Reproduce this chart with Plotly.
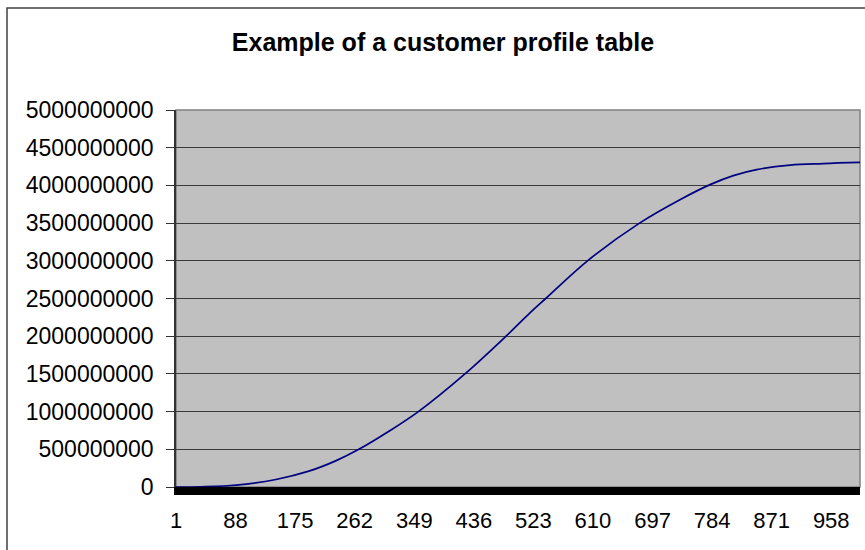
import plotly.graph_objects as go

# Customer rank (category index) and cumulative value at that rank
customer_rank = [1, 37, 89, 147, 195, 235, 268, 312, 355, 423, 483, 518,
                 541, 602, 678, 737, 781, 815, 849, 898, 946, 1000]
cumulative_value = [0, 0.003e9, 0.025e9, 0.10e9, 0.21e9, 0.35e9, 0.50e9,
                    0.74e9, 1.00e9, 1.50e9, 2.00e9, 2.31e9, 2.50e9, 3.00e9,
                    3.50e9, 3.81e9, 4.01e9, 4.13e9, 4.21e9, 4.27e9, 4.29e9,
                    4.305e9]

x_tick_labels = [1, 88, 175, 262, 349, 436, 523, 610, 697, 784, 871, 958]
y_tick_values = [0, 500000000, 1000000000, 1500000000, 2000000000, 2500000000,
                 3000000000, 3500000000, 4000000000, 4500000000, 5000000000]

FONT = "Liberation Sans, Arial, sans-serif"

fig = go.Figure()
fig.add_trace(go.Scatter(
    x=customer_rank,
    y=cumulative_value,
    mode="lines",
    line=dict(color="#000080", width=1.7, shape="spline", smoothing=1.0),
    hoverinfo="x+y",
))

fig.update_layout(
    width=865,
    height=550,
    margin=dict(l=176, r=5, t=110, b=63),
    paper_bgcolor="white",
    plot_bgcolor="#C0C0C0",
    showlegend=False,
    title=dict(
        text="<b>Example of a customer profile table</b>",
        x=443 / 865, xref="container", xanchor="center",
        y=1 - 42 / 550, yref="container", yanchor="middle",
        font=dict(family=FONT, size=25, color="black"),
    ),
    xaxis=dict(
        range=[1, 1000],
        tickmode="array",
        tickvals=x_tick_labels,
        ticktext=[str(v) for v in x_tick_labels],
        showgrid=False,
        zeroline=False,
        showline=True,
        linecolor="black",
        linewidth=8,
        ticks="",
        ticklabelstandoff=7,
        tickfont=dict(family=FONT, size=22, color="black"),
    ),
    yaxis=dict(
        range=[0, 5000000000],
        tickmode="array",
        tickvals=y_tick_values,
        ticktext=[str(v) for v in y_tick_values],
        showgrid=True,
        gridcolor="#3a3a3a",
        gridwidth=1.2,
        zeroline=False,
        showline=True,
        linecolor="#333333",
        linewidth=1.5,
        ticks="outside",
        ticklen=8,
        tickwidth=1.2,
        tickcolor="#333333",
        ticklabelstandoff=8,
        tickfont=dict(family=FONT, size=23, color="black"),
    ),
    shapes=[
        # plot-area frame (top and right edges)
        dict(type="rect", xref="paper", yref="paper", x0=0, y0=0, x1=1, y1=1,
             line=dict(color="#808080", width=1.5), layer="below"),
        # outer chart-area border
        dict(type="rect", xref="paper", yref="paper",
             x0=(7 - 176) / 684, y0=(487 - 570) / 377,
             x1=(880 - 176) / 684, y1=(487 - 8) / 377,
             line=dict(color="#404040", width=1.5)),
    ],
)

fig.write_html("out.html")
